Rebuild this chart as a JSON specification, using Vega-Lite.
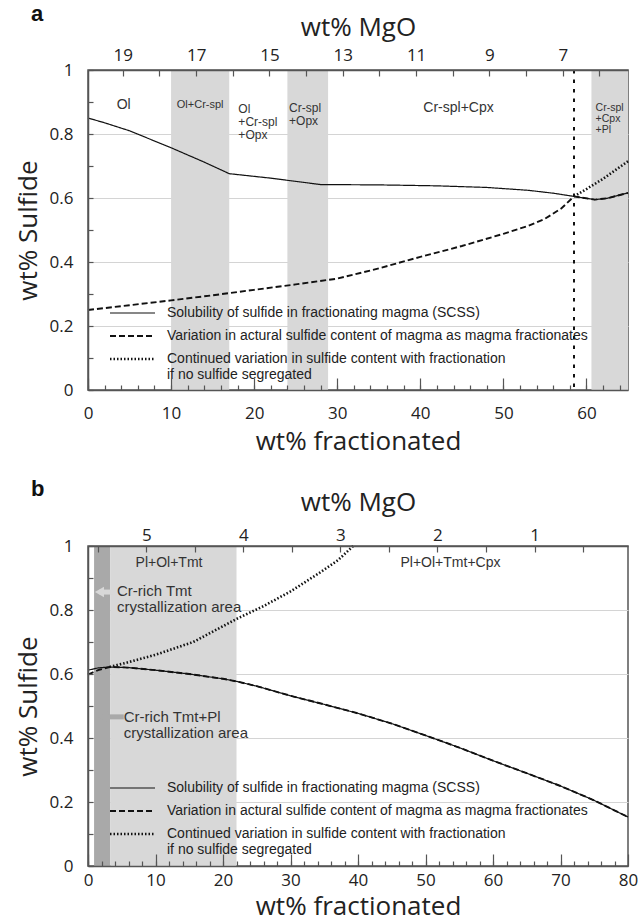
{
  "$schema": "https://vega.github.io/schema/vega-lite/v6.json",
  "padding": {"left": 14, "top": 2, "right": 10, "bottom": 0},
  "spacing": 22,
  "datasets": {
    "bandsA": [
      {"x1": 10, "x2": 17, "tone": "light"},
      {"x1": 24, "x2": 28.9, "tone": "light"},
      {"x1": 60.6, "x2": 65, "tone": "light"}
    ],
    "curvesA": [
      {"series": "scss", "f": 0, "s": 0.85},
      {"series": "scss", "f": 2, "s": 0.835},
      {"series": "scss", "f": 5, "s": 0.81},
      {"series": "scss", "f": 10, "s": 0.757},
      {"series": "scss", "f": 14, "s": 0.712},
      {"series": "scss", "f": 17, "s": 0.676},
      {"series": "scss", "f": 22, "s": 0.662},
      {"series": "scss", "f": 28, "s": 0.642},
      {"series": "scss", "f": 35, "s": 0.641},
      {"series": "scss", "f": 42, "s": 0.638},
      {"series": "scss", "f": 48, "s": 0.633},
      {"series": "scss", "f": 53, "s": 0.624},
      {"series": "scss", "f": 56, "s": 0.615},
      {"series": "scss", "f": 58.5, "s": 0.605},
      {"series": "scss", "f": 61, "s": 0.595},
      {"series": "scss", "f": 62.5, "s": 0.599},
      {"series": "scss", "f": 65, "s": 0.616},
      {"series": "actual", "f": 0, "s": 0.25},
      {"series": "actual", "f": 5, "s": 0.265},
      {"series": "actual", "f": 10, "s": 0.28},
      {"series": "actual", "f": 15, "s": 0.296},
      {"series": "actual", "f": 20, "s": 0.313},
      {"series": "actual", "f": 25, "s": 0.33},
      {"series": "actual", "f": 30, "s": 0.348},
      {"series": "actual", "f": 35, "s": 0.38},
      {"series": "actual", "f": 40, "s": 0.416},
      {"series": "actual", "f": 45, "s": 0.45},
      {"series": "actual", "f": 50, "s": 0.488},
      {"series": "actual", "f": 53, "s": 0.513},
      {"series": "actual", "f": 55, "s": 0.535},
      {"series": "actual", "f": 57, "s": 0.568},
      {"series": "actual", "f": 58.5, "s": 0.605},
      {"series": "actual", "f": 61, "s": 0.595},
      {"series": "actual", "f": 62.5, "s": 0.599},
      {"series": "actual", "f": 65, "s": 0.616},
      {"series": "cont", "f": 58.5, "s": 0.605},
      {"series": "cont", "f": 60, "s": 0.628},
      {"series": "cont", "f": 62, "s": 0.66},
      {"series": "cont", "f": 65, "s": 0.715}
    ],
    "labelsA": [
      {"grp": "c", "x": 4.3, "y": 0.892, "t": "Ol"},
      {"grp": "c", "x": 44.6, "y": 0.88, "t": "Cr-spl+Cpx"},
      {"grp": "cs", "x": 13.5, "y": 0.89, "t": "Ol+Cr-spl"},
      {"grp": "l", "x": 18.1, "y": 0.879, "t": "Ol\n+Cr-spl\n+Opx"},
      {"grp": "l", "x": 24.2, "y": 0.881, "t": "Cr-spl\n+Opx"},
      {"grp": "ls", "x": 61.1, "y": 0.881, "t": "Cr-spl\n+Cpx\n+Pl"}
    ],
    "bandsB": [
      {"x1": 0.9, "x2": 3.3, "tone": "dark"},
      {"x1": 3.3, "x2": 22, "tone": "light"}
    ],
    "curvesB": [
      {"series": "scss", "f": 0, "s": 0.612},
      {"series": "scss", "f": 1.5, "s": 0.619},
      {"series": "scss", "f": 3.2, "s": 0.622},
      {"series": "scss", "f": 6, "s": 0.62},
      {"series": "scss", "f": 10, "s": 0.612},
      {"series": "scss", "f": 15, "s": 0.6},
      {"series": "scss", "f": 20, "s": 0.585},
      {"series": "scss", "f": 22, "s": 0.577},
      {"series": "scss", "f": 25, "s": 0.562},
      {"series": "scss", "f": 30, "s": 0.532},
      {"series": "scss", "f": 35, "s": 0.505},
      {"series": "scss", "f": 40, "s": 0.477},
      {"series": "scss", "f": 45, "s": 0.445},
      {"series": "scss", "f": 50, "s": 0.408},
      {"series": "scss", "f": 55, "s": 0.37},
      {"series": "scss", "f": 60, "s": 0.329},
      {"series": "scss", "f": 65, "s": 0.29},
      {"series": "scss", "f": 70, "s": 0.25},
      {"series": "scss", "f": 75, "s": 0.205},
      {"series": "scss", "f": 80, "s": 0.153},
      {"series": "actual", "f": 0, "s": 0.598},
      {"series": "actual", "f": 1.5, "s": 0.612},
      {"series": "actual", "f": 3.2, "s": 0.622},
      {"series": "actual", "f": 6, "s": 0.62},
      {"series": "actual", "f": 10, "s": 0.612},
      {"series": "actual", "f": 15, "s": 0.6},
      {"series": "actual", "f": 20, "s": 0.585},
      {"series": "actual", "f": 22, "s": 0.577},
      {"series": "actual", "f": 25, "s": 0.562},
      {"series": "actual", "f": 30, "s": 0.532},
      {"series": "actual", "f": 35, "s": 0.505},
      {"series": "actual", "f": 40, "s": 0.477},
      {"series": "actual", "f": 45, "s": 0.445},
      {"series": "actual", "f": 50, "s": 0.408},
      {"series": "actual", "f": 55, "s": 0.37},
      {"series": "actual", "f": 60, "s": 0.329},
      {"series": "actual", "f": 65, "s": 0.29},
      {"series": "actual", "f": 70, "s": 0.25},
      {"series": "actual", "f": 75, "s": 0.205},
      {"series": "actual", "f": 80, "s": 0.153},
      {"series": "cont", "f": 3.2, "s": 0.622},
      {"series": "cont", "f": 6, "s": 0.637},
      {"series": "cont", "f": 10, "s": 0.66},
      {"series": "cont", "f": 15.6, "s": 0.7},
      {"series": "cont", "f": 22, "s": 0.772},
      {"series": "cont", "f": 26, "s": 0.812},
      {"series": "cont", "f": 30, "s": 0.858},
      {"series": "cont", "f": 34, "s": 0.912},
      {"series": "cont", "f": 37, "s": 0.955},
      {"series": "cont", "f": 39.3, "s": 1.0}
    ],
    "labelsB": [
      {"grp": "c", "x": 12.0, "y": 0.947, "t": "Pl+Ol+Tmt"},
      {"grp": "c", "x": 53.7, "y": 0.947, "t": "Pl+Ol+Tmt+Cpx"},
      {"grp": "l", "x": 4.3, "y": 0.859, "t": "Cr-rich Tmt\ncrystallization area"},
      {"grp": "l", "x": 5.3, "y": 0.4645, "t": "Cr-rich Tmt+Pl\ncrystallization area"}
    ],
    "arrowsB": [
      {"kind": "white", "head": 1.7, "tail": 3.85, "y": 0.856},
      {"kind": "gray", "head": 2.2, "tail": 5.3, "y": 0.466}
    ]
  },
  "resolve": {
    "scale": {"strokeDash": "independent", "strokeWidth": "independent", "color": "independent"},
    "legend": {"strokeDash": "independent", "strokeWidth": "independent"}
  },
  "vconcat": [
    {
      "width": 540,
      "height": 320,
      "title": {"text": "a", "anchor": "start", "frame": "group", "dx": -57, "dy": 12, "offset": 0, "fontSize": 22, "font": "Liberation Sans", "fontWeight": "bold", "color": "#111"},
      "resolve": {"scale": {"x": "independent"}, "axis": {"x": "independent", "y": "independent"}},
      "layer": [
        {
          "data": {"name": "bandsA"},
          "mark": {"type": "rect"},
          "encoding": {
            "x": {"field": "x1", "type": "quantitative", "scale": {"domain": [0, 65], "nice": false, "zero": false}, "axis": null},
            "x2": {"field": "x2"},
            "color": {"field": "tone", "type": "nominal", "scale": {"domain": ["light", "dark"], "range": ["#d8d8d8", "#a9a9a9"]}, "legend": null}
          }
        },
        {
          "data": {"values": [{"f": 58.5}]},
          "mark": {"type": "rule", "color": "#111", "strokeDash": [3.5, 6], "strokeWidth": 2},
          "encoding": {
            "x": {"field": "f", "type": "quantitative", "scale": {"domain": [0, 65], "nice": false, "zero": false}, "axis": null}
          }
        },
        {
          "data": {"name": "curvesA"},
          "mark": {"type": "line", "color": "#111"},
          "encoding": {
            "x": {"field": "f", "type": "quantitative", "scale": {"domain": [0, 65], "nice": false, "zero": false},
              "axis": {"orient": "bottom", "values": [0, 10, 20, 30, 40, 50, 60], "tickSize": -12, "labelPadding": 27, "title": "wt% fractionated", "titlePadding": 7, "zindex": 1, "domain": true}},
            "y": {"field": "s", "type": "quantitative", "scale": {"domain": [0, 1], "nice": false, "zero": false},
              "axis": {"orient": "left", "grid": true, "values": [0.2, 0.4, 0.6, 0.8], "gridColor": "#d4d4d4", "gridWidth": 1, "labels": false, "ticks": false, "domain": false, "title": null, "zindex": 0}},
            "strokeDash": {"field": "series", "type": "ordinal", "scale": {"domain": ["scss", "actual", "cont"], "range": [[1, 0], [6, 3], [1.5, 2]]},
              "legend": {"title": null, "orient": "none", "legendX": 37.5, "legendY": 236, "padding": 0, "symbolType": "M-4.5,0H4.5", "symbolSize": 100, "symbolStrokeColor": "#111", "labelFont": "Liberation Sans", "labelFontSize": 14, "labelColor": "#222", "labelOffset": 27.5, "rowPadding": 9, "labelLimit": 700,
                "labelExpr": "datum.value == 'scss' ? 'Solubility of sulfide in fractionating magma (SCSS)' : datum.value == 'actual' ? 'Variation in actural sulfide content of magma as magma fractionates' : ['Continued variation in sulfide content with fractionation', ' if no sulfide segregated']"}},
            "strokeWidth": {"field": "series", "type": "ordinal", "scale": {"domain": ["scss", "actual", "cont"], "range": [1.2, 2.6, 1.6]},
              "legend": {"title": null, "orient": "none", "legendX": 37.5, "legendY": 236, "padding": 0, "symbolType": "M-4.5,0H4.5", "symbolSize": 100, "symbolStrokeColor": "#111", "labelFont": "Liberation Sans", "labelFontSize": 14, "labelColor": "#222", "labelOffset": 27.5, "rowPadding": 9, "labelLimit": 700,
                "labelExpr": "datum.value == 'scss' ? 'Solubility of sulfide in fractionating magma (SCSS)' : datum.value == 'actual' ? 'Variation in actural sulfide content of magma as magma fractionates' : ['Continued variation in sulfide content with fractionation', ' if no sulfide segregated']"}}
          }
        },
        {
          "data": {"name": "labelsA"},
          "transform": [{"filter": "datum.grp == 'c'"}],
          "mark": {"type": "text", "font": "Liberation Sans", "fontSize": 14, "color": "#333", "align": "center", "baseline": "middle", "lineBreak": "\n"},
          "encoding": {
            "x": {"field": "x", "type": "quantitative", "scale": {"domain": [0, 65], "nice": false, "zero": false},
              "axis": {"orient": "bottom", "values": [0, 2, 4, 6, 8, 10, 12, 14, 16, 18, 20, 22, 24, 26, 28, 30, 32, 34, 36, 38, 40, 42, 44, 46, 48, 50, 52, 54, 56, 58, 60, 62, 64], "tickSize": -5, "labels": false, "domain": false, "title": null, "zindex": 1}},
            "y": {"field": "y", "type": "quantitative", "scale": {"domain": [0, 1], "nice": false, "zero": false},
              "axis": {"orient": "left", "values": [0, 0.1, 0.2, 0.3, 0.4, 0.5, 0.6, 0.7, 0.8, 0.9, 1], "tickSize": -5, "labelPadding": 20, "labelExpr": "round(datum.value * 10) % 2 == 0 ? format(datum.value, '.1~f') : ''", "title": "wt% Sulfide", "titlePadding": 8, "domain": true, "zindex": 1}},
            "text": {"field": "t", "type": "nominal"}
          }
        },
        {
          "data": {"name": "labelsA"},
          "transform": [{"filter": "datum.grp == 'cs'"}],
          "mark": {"type": "text", "font": "Liberation Sans", "fontSize": 11, "color": "#333", "align": "center", "baseline": "middle", "lineBreak": "\n"},
          "encoding": {
            "x": {"field": "x", "type": "quantitative", "scale": {"domain": [0, 65], "nice": false, "zero": false}, "axis": null},
            "y": {"field": "y", "type": "quantitative", "scale": {"domain": [0, 1], "nice": false, "zero": false}, "axis": null},
            "text": {"field": "t", "type": "nominal"}
          }
        },
        {
          "data": {"name": "labelsA"},
          "transform": [{"filter": "datum.grp == 'l'"}],
          "mark": {"type": "text", "font": "Liberation Sans", "fontSize": 12, "lineHeight": 13.3, "color": "#333", "align": "left", "baseline": "middle", "lineBreak": "\n"},
          "encoding": {
            "x": {"field": "x", "type": "quantitative", "scale": {"domain": [0, 65], "nice": false, "zero": false}, "axis": null},
            "y": {"field": "y", "type": "quantitative", "scale": {"domain": [0, 1], "nice": false, "zero": false}, "axis": null},
            "text": {"field": "t", "type": "nominal"}
          }
        },
        {
          "data": {"name": "labelsA"},
          "transform": [{"filter": "datum.grp == 'ls'"}],
          "mark": {"type": "text", "font": "Liberation Sans", "fontSize": 10.5, "lineHeight": 11.2, "color": "#333", "align": "left", "baseline": "middle", "lineBreak": "\n"},
          "encoding": {
            "x": {"field": "x", "type": "quantitative", "scale": {"domain": [0, 65], "nice": false, "zero": false}, "axis": null},
            "y": {"field": "y", "type": "quantitative", "scale": {"domain": [0, 1], "nice": false, "zero": false}, "axis": null},
            "text": {"field": "t", "type": "nominal"}
          }
        },
        {
          "data": {"values": [{"mgo": 19}, {"mgo": 7}]},
          "mark": {"type": "point", "opacity": 0},
          "encoding": {
            "x": {"field": "mgo", "type": "quantitative", "scale": {"domain": [5.22, 19.95], "reverse": true, "nice": false, "zero": false},
              "axis": {"orient": "top", "values": [19, 18, 17, 16, 15, 14, 13, 12, 11, 10, 9, 8, 7, 6], "tickSize": -6, "labelPadding": 12, "labelExpr": "datum.value % 2 == 1 ? format(datum.value, 'd') : ''", "title": "wt% MgO", "titlePadding": 6, "domain": true, "zindex": 1}}
          }
        }
      ]
    },
    {
      "width": 540,
      "height": 320,
      "title": {"text": "b", "anchor": "start", "frame": "group", "dx": -57, "dy": 12, "offset": 0, "fontSize": 22, "font": "Liberation Sans", "fontWeight": "bold", "color": "#111"},
      "resolve": {"scale": {"x": "independent"}, "axis": {"x": "independent", "y": "independent"}},
      "layer": [
        {
          "data": {"name": "bandsB"},
          "mark": {"type": "rect"},
          "encoding": {
            "x": {"field": "x1", "type": "quantitative", "scale": {"domain": [0, 80], "nice": false, "zero": false}, "axis": null},
            "x2": {"field": "x2"},
            "color": {"field": "tone", "type": "nominal", "scale": {"domain": ["light", "dark"], "range": ["#d8d8d8", "#a9a9a9"]}, "legend": null}
          }
        },
        {
          "data": {"name": "curvesB"},
          "mark": {"type": "line", "color": "#111"},
          "encoding": {
            "x": {"field": "f", "type": "quantitative", "scale": {"domain": [0, 80], "nice": false, "zero": false},
              "axis": {"orient": "bottom", "values": [0, 10, 20, 30, 40, 50, 60, 70, 80], "tickSize": -12, "labelPadding": 18, "title": "wt% fractionated", "titlePadding": 5, "zindex": 1, "domain": true}},
            "y": {"field": "s", "type": "quantitative", "scale": {"domain": [0, 1], "nice": false, "zero": false},
              "axis": {"orient": "left", "grid": true, "values": [0.2, 0.4, 0.6, 0.8], "gridColor": "#d4d4d4", "gridWidth": 1, "labels": false, "ticks": false, "domain": false, "title": null, "zindex": 0}},
            "strokeDash": {"field": "series", "type": "ordinal", "scale": {"domain": ["scss", "actual", "cont"], "range": [[1, 0], [6, 3], [1.5, 2]]},
              "legend": {"title": null, "orient": "none", "legendX": 37.5, "legendY": 235, "padding": 0, "symbolType": "M-4.5,0H4.5", "symbolSize": 100, "symbolStrokeColor": "#111", "labelFont": "Liberation Sans", "labelFontSize": 14, "labelColor": "#222", "labelOffset": 27.5, "rowPadding": 9, "labelLimit": 700,
                "labelExpr": "datum.value == 'scss' ? 'Solubility of sulfide in fractionating magma (SCSS)' : datum.value == 'actual' ? 'Variation in actural sulfide content of magma as magma fractionates' : ['Continued variation in sulfide content with fractionation', 'if no sulfide segregated']"}},
            "strokeWidth": {"field": "series", "type": "ordinal", "scale": {"domain": ["scss", "actual", "cont"], "range": [1.2, 2.6, 1.6]},
              "legend": {"title": null, "orient": "none", "legendX": 37.5, "legendY": 235, "padding": 0, "symbolType": "M-4.5,0H4.5", "symbolSize": 100, "symbolStrokeColor": "#111", "labelFont": "Liberation Sans", "labelFontSize": 14, "labelColor": "#222", "labelOffset": 27.5, "rowPadding": 9, "labelLimit": 700,
                "labelExpr": "datum.value == 'scss' ? 'Solubility of sulfide in fractionating magma (SCSS)' : datum.value == 'actual' ? 'Variation in actural sulfide content of magma as magma fractionates' : ['Continued variation in sulfide content with fractionation', 'if no sulfide segregated']"}}
          }
        },
        {
          "data": {"name": "labelsB"},
          "transform": [{"filter": "datum.grp == 'c'"}],
          "mark": {"type": "text", "font": "Liberation Sans", "fontSize": 14, "color": "#333", "align": "center", "baseline": "middle", "lineBreak": "\n"},
          "encoding": {
            "x": {"field": "x", "type": "quantitative", "scale": {"domain": [0, 80], "nice": false, "zero": false},
              "axis": {"orient": "bottom", "values": [0, 2, 4, 6, 8, 10, 12, 14, 16, 18, 20, 22, 24, 26, 28, 30, 32, 34, 36, 38, 40, 42, 44, 46, 48, 50, 52, 54, 56, 58, 60, 62, 64, 66, 68, 70, 72, 74, 76, 78], "tickSize": -5, "labels": false, "domain": false, "title": null, "zindex": 1}},
            "y": {"field": "y", "type": "quantitative", "scale": {"domain": [0, 1], "nice": false, "zero": false},
              "axis": {"orient": "left", "values": [0, 0.1, 0.2, 0.3, 0.4, 0.5, 0.6, 0.7, 0.8, 0.9, 1], "tickSize": -5, "labelPadding": 20, "labelExpr": "round(datum.value * 10) % 2 == 0 ? format(datum.value, '.1~f') : ''", "title": "wt% Sulfide", "titlePadding": 8, "domain": true, "zindex": 1}},
            "text": {"field": "t", "type": "nominal"}
          }
        },
        {
          "data": {"name": "labelsB"},
          "transform": [{"filter": "datum.grp == 'l'"}],
          "mark": {"type": "text", "font": "Liberation Sans", "fontSize": 15, "lineHeight": 16, "color": "#333", "align": "left", "baseline": "middle", "lineBreak": "\n"},
          "encoding": {
            "x": {"field": "x", "type": "quantitative", "scale": {"domain": [0, 80], "nice": false, "zero": false}, "axis": null},
            "y": {"field": "y", "type": "quantitative", "scale": {"domain": [0, 1], "nice": false, "zero": false}, "axis": null},
            "text": {"field": "t", "type": "nominal"}
          }
        },
        {
          "data": {"name": "arrowsB"},
          "mark": {"type": "rule", "strokeWidth": 5},
          "encoding": {
            "x": {"field": "head", "type": "quantitative", "scale": {"domain": [0, 80], "nice": false, "zero": false}, "axis": null},
            "x2": {"field": "tail"},
            "y": {"field": "y", "type": "quantitative", "scale": {"domain": [0, 1], "nice": false, "zero": false}, "axis": null},
            "color": {"field": "kind", "type": "nominal", "scale": {"domain": ["white", "gray"], "range": ["#ffffff", "#a3a3a3"]}, "legend": null}
          }
        },
        {
          "data": {"name": "arrowsB"},
          "mark": {"type": "point", "shape": "triangle-left", "filled": true, "opacity": 1, "size": 110},
          "encoding": {
            "x": {"field": "head", "type": "quantitative", "scale": {"domain": [0, 80], "nice": false, "zero": false}, "axis": null},
            "y": {"field": "y", "type": "quantitative", "scale": {"domain": [0, 1], "nice": false, "zero": false}, "axis": null},
            "color": {"field": "kind", "type": "nominal", "scale": {"domain": ["white", "gray"], "range": ["#ffffff", "#a3a3a3"]}, "legend": null}
          }
        },
        {
          "data": {"values": [{"mgo": 5}, {"mgo": 1}]},
          "mark": {"type": "point", "opacity": 0},
          "encoding": {
            "x": {"field": "mgo", "type": "quantitative", "scale": {"domain": [0.037, 5.6], "reverse": true, "nice": false, "zero": false},
              "axis": {"orient": "top", "values": [5.5, 5, 4.5, 4, 3.5, 3, 2.5, 2, 1.5, 1, 0.5], "tickSize": -6, "labelPadding": 8, "labelExpr": "datum.value % 1 == 0 ? format(datum.value, 'd') : ''", "title": "wt% MgO", "titlePadding": 11, "domain": true, "zindex": 1}}
          }
        }
      ]
    }
  ],
  "config": {
    "view": {"stroke": "#555", "strokeWidth": 1.5},
    "axis": {"labelFont": "Open Sans", "labelFontSize": 17, "labelColor": "#222", "titleFont": "Open Sans", "titleFontSize": 26, "titleFontWeight": "normal", "titleColor": "#222", "domainColor": "#555", "domainWidth": 1.5, "tickColor": "#555", "tickWidth": 1.2, "labelFlush": false, "labelOverlap": false, "grid": false}
  }
}
